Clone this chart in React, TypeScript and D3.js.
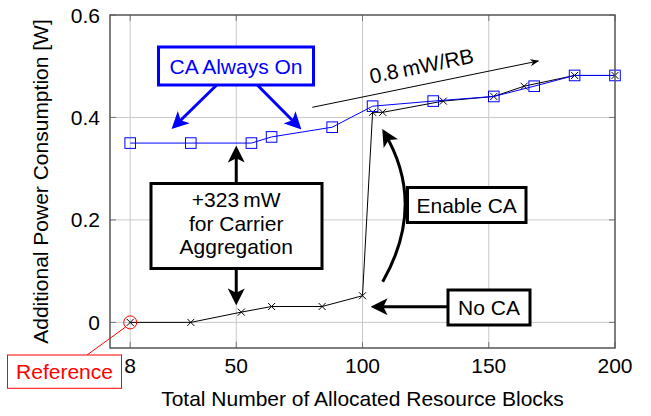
import * as d3 from 'd3';

const rbCaOn = [8, 32, 56, 64, 88, 104, 128, 152, 168, 184, 200];
const powerCaOn = [0.35, 0.35, 0.35, 0.362, 0.381, 0.422, 0.432, 0.441, 0.461, 0.482, 0.482];

const rbNoCa = [8, 32, 52, 64, 84, 100, 104, 108, 132, 152, 164, 184, 200];
const powerNoCa = [0, 0, 0.02, 0.031, 0.031, 0.052, 0.41, 0.41, 0.432, 0.441, 0.461, 0.482, 0.482];

const xTicks = [8, 50, 100, 150, 200];
const yTicks = [0, 0.2, 0.4, 0.6];

const width = 651;
const height = 416;
const font = '"Liberation Sans", Arial, Helvetica, sans-serif';
const fs = 21;

const x = d3.scaleLinear().domain([0, 200]).range([110, 615]);
const y = d3.scaleLinear().domain([-0.05, 0.6]).range([348, 15]);

const line = d3
  .line<[number, number]>()
  .x((d) => x(d[0]))
  .y((d) => y(d[1]));

const caOn = rbCaOn.map((r, i) => [r, powerCaOn[i]] as [number, number]);
const noCa = rbNoCa.map((r, i) => [r, powerNoCa[i]] as [number, number]);

export default function App() {
  const [x0, x1] = x.range();
  const [y0, y1] = y.range();
  const midX = x(50);

  return (
    <svg
      width={width}
      height={height}
      style={{ position: 'absolute', left: 0, top: 0, background: '#fff' }}
      fontFamily={font}
      fontSize={fs}
    >
      <defs>
        <marker id="headBig" viewBox="0 0 10 10" refX="8" refY="5" markerWidth="17" markerHeight="17"
          markerUnits="userSpaceOnUse" orient="auto">
          <path d="M0,0 L10,5 L0,10 L2.5,5 z" fill="#000" />
        </marker>
        <marker id="headBlue" viewBox="0 0 10 10" refX="8" refY="5" markerWidth="17" markerHeight="17"
          markerUnits="userSpaceOnUse" orient="auto">
          <path d="M0,0 L10,5 L0,10 L2.5,5 z" fill="#0000ff" />
        </marker>
        <marker id="headSmall" viewBox="0 0 10 10" refX="9" refY="5" markerWidth="9" markerHeight="9"
          markerUnits="userSpaceOnUse" orient="auto">
          <path d="M0,1 L10,5 L0,9 L3,5 z" fill="#000" />
        </marker>
      </defs>

      {/* grid */}
      {xTicks.slice(0, -1).map((t) => (
        <line key={'gx' + t} x1={x(t)} x2={x(t)} y1={y1} y2={y0} stroke="#c8c8c8" strokeWidth={1} />
      ))}
      {yTicks.slice(0, -1).map((t) => (
        <line key={'gy' + t} x1={x0} x2={x1} y1={y(t)} y2={y(t)} stroke="#c8c8c8" strokeWidth={1} />
      ))}
      {/* tick marks */}
      {xTicks.map((t) => (
        <g key={'tx' + t} stroke="#777" strokeWidth={1}>
          <line x1={x(t)} x2={x(t)} y1={y0} y2={y0 - 6} />
          <line x1={x(t)} x2={x(t)} y1={y1} y2={y1 + 6} />
        </g>
      ))}
      {yTicks.map((t) => (
        <g key={'ty' + t} stroke="#777" strokeWidth={1}>
          <line x1={x0} x2={x0 + 6} y1={y(t)} y2={y(t)} />
          <line x1={x1} x2={x1 - 6} y1={y(t)} y2={y(t)} />
        </g>
      ))}

      {/* series: no CA */}
      <path d={line(noCa) ?? ''} fill="none" stroke="#000" strokeWidth={1} />
      {noCa.map(([r, p], i) => (
        <path key={'n' + i}
          d={`M${x(r) - 3.5},${y(p) - 3.5}L${x(r) + 3.5},${y(p) + 3.5}M${x(r) - 3.5},${y(p) + 3.5}L${x(r) + 3.5},${y(p) - 3.5}`}
          stroke="#000" strokeWidth={1} />
      ))}
      {/* series: CA always on */}
      <path d={line(caOn) ?? ''} fill="none" stroke="#0000ff" strokeWidth={1} />
      {caOn.map(([r, p], i) => (
        <rect key={'c' + i} x={x(r) - 5.3} y={y(p) - 5.3} width={10.6} height={10.6}
          fill="none" stroke="#0000ff" strokeWidth={1} />
      ))}

      {/* frame */}
      <rect x={x0} y={y1} width={x1 - x0} height={y0 - y1} fill="none" stroke="#555" strokeWidth={1.5} />

      {/* tick labels */}
      {xTicks.map((t) => (
        <text key={'lx' + t} x={x(t)} y={y0 + 25} textAnchor="middle">{t}</text>
      ))}
      {yTicks.map((t) => (
        <text key={'ly' + t} x={x0 - 10} y={y(t)} textAnchor="end" dominantBaseline="central">
          {t === 0 ? '0' : t.toFixed(1)}
        </text>
      ))}

      {/* axis titles */}
      <text x={(x0 + x1) / 2} y={406} textAnchor="middle">Total Number of Allocated Resource Blocks</text>
      <text transform={`translate(48, ${(y0 + y1) / 2}) rotate(-90)`} textAnchor="middle">
        Additional Power Consumption [W]
      </text>

      {/* CA Always On */}
      <rect x={158.5} y={47} width={155} height={38} fill="#fff" stroke="#0000ff" strokeWidth={3} />
      <text x={236} y={66} textAnchor="middle" dominantBaseline="central" fill="#0000ff">CA Always On</text>
      <line x1={216.7} y1={85} x2={174} y2={126.7} stroke="#0000ff" strokeWidth={3} markerEnd="url(#headBlue)" />
      <line x1={257.3} y1={85} x2={299} y2={127} stroke="#0000ff" strokeWidth={3} markerEnd="url(#headBlue)" />

      {/* slope */}
      <line x1={312.3} y1={107.3} x2={538.3} y2={61} stroke="#000" strokeWidth={1} markerEnd="url(#headSmall)" />
      <text transform="translate(423, 73) rotate(-11.6)" textAnchor="middle">0.8{'\u2009'}mW/RB</text>

      {/* +323 mW */}
      <line x1={midX} y1={183} x2={midX} y2={149} stroke="#000" strokeWidth={3} markerEnd="url(#headBig)" />
      <line x1={midX} y1={268} x2={midX} y2={302} stroke="#000" strokeWidth={3} markerEnd="url(#headBig)" />
      <rect x={151} y={183.5} width={171} height={85} fill="#fff" stroke="#000" strokeWidth={3} />
      <text x={236.2} textAnchor="middle">
        <tspan x={236.2} y={207}>+323{'\u2009'}mW</tspan>
        <tspan x={236.2} y={230.5}>for Carrier</tspan>
        <tspan x={236.2} y={254}>Aggregation</tspan>
      </text>

      {/* Enable CA */}
      <path d="M382.7,281.7 Q427,204 384,132" fill="none" stroke="#000" strokeWidth={3} markerEnd="url(#headBig)" />
      <rect x={407.5} y={187.5} width={118.5} height={35} fill="#fff" stroke="#000" strokeWidth={3} />
      <text x={466.7} y={205} textAnchor="middle" dominantBaseline="central">Enable CA</text>

      {/* No CA */}
      <line x1={447.7} y1={306.7} x2={374} y2={306.7} stroke="#000" strokeWidth={3} markerEnd="url(#headBig)" />
      <rect x={448} y={290} width={82} height={35} fill="#fff" stroke="#000" strokeWidth={3} />
      <text x={489} y={307.5} textAnchor="middle" dominantBaseline="central">No CA</text>

      {/* Reference */}
      <circle cx={x(8)} cy={y(0)} r={6.5} fill="none" stroke="#ff0000" strokeWidth={1} />
      <line x1={87} y1={355} x2={x(8) - 4.6} y2={y(0) + 4.6} stroke="#ff0000" strokeWidth={1} />
      <rect x={7.5} y={355} width={114} height={33.3} fill="#fff" stroke="#ff0000" strokeWidth={1} />
      <text x={64.5} y={371.7} textAnchor="middle" dominantBaseline="central" fill="#ff0000">Reference</text>
    </svg>
  );
}
